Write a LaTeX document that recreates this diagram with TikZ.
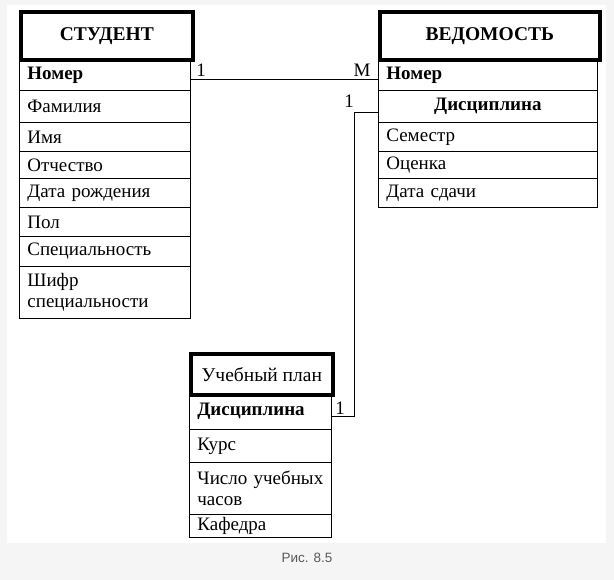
\documentclass[tikz,border=0pt]{standalone}
\usepackage{fontspec}
\setmainfont{Liberation Serif}
\newfontfamily\capfont{Liberation Sans}
\begin{document}
\begin{tikzpicture}[x=1pt,y=-1pt,
  every node/.style={font=\rmfamily\fontsize{19}{20.5}\selectfont},
  hdr/.style={draw,line width=3.6pt,rectangle,inner sep=0pt,anchor=north west,align=center,font=\rmfamily\fontsize{19.5}{21}\selectfont},
  row/.style={draw,line width=0.8pt,rectangle,inner sep=0pt,anchor=north west,align=left},
  lbl/.style={inner sep=0pt},
  conn/.style={line width=0.8pt}]
\useasboundingbox (0,0) rectangle (614,580);
\fill[black!4] (0,0) rectangle (614,580);
\fill[white] (7,5) rectangle (606,543);

% STUDENT
\node[row,minimum width=171,minimum height=31,text width=155] (s1) at (19,59) {\textbf{Номер}};
\node[row,minimum width=171,minimum height=32,text width=155] (s2) at (19,90) {Фамилия};
\node[row,minimum width=171,minimum height=29,text width=155] (s3) at (19,122) {Имя};
\node[row,minimum width=171,minimum height=27,text width=155] (s4) at (19,151) {Отчество};
\node[row,minimum width=171,minimum height=29,text width=155] (s5) at (19,178) {Дата рождения};
\node[row,minimum width=171,minimum height=29,text width=155] (s6) at (19,207) {Пол};
\node[row,minimum width=171,minimum height=30,text width=155] (s7) at (19,236) {Специальность};
\node[row,minimum width=171,minimum height=52,text width=155] (s8) at (19,266) {Шифр\\специальности};
\node[hdr,minimum width=172,minimum height=48] (sh) at (19,10) {\textbf{СТУДЕНТ}};

% VEDOMOST
\node[row,minimum width=219,minimum height=31,text width=203] (v1) at (378,59) {\textbf{Номер}};
\node[row,minimum width=219,minimum height=32,text width=203,align=center] (v2) at (378,90) {\textbf{Дисциплина}};
\node[row,minimum width=219,minimum height=29,text width=203] (v3) at (378,122) {Семестр};
\node[row,minimum width=219,minimum height=27,text width=203] (v4) at (378,151) {Оценка};
\node[row,minimum width=219,minimum height=29,text width=203] (v5) at (378,178) {Дата сдачи};
\node[hdr,minimum width=220,minimum height=48] (vh) at (378,10) {\textbf{ВЕДОМОСТЬ}};

% UCHEBNY PLAN
\node[row,minimum width=142,minimum height=36,text width=126] (u1) at (189,393) {\textbf{Дисциплина}};
\node[row,minimum width=142,minimum height=33,text width=126] (u2) at (189,429) {Курс};
\node[row,minimum width=142,minimum height=52,text width=126] (u3) at (189,462) {Число учебных\\часов};
\node[row,minimum width=142,minimum height=23,text width=126] (u4) at (189,514) {Кафедра};
\node[hdr,minimum width=142,minimum height=41] (uh) at (189,352) {Учебный план};

\foreach \h in {sh,vh,uh}
  \draw[line width=0.8pt] ([shift={(3.6pt,-3.6pt)}]\h.north west) rectangle ([shift={(-3.6pt,3.6pt)}]\h.south east);

% connectors
\coordinate (bend) at (354,416);
\draw[conn] ([yshift=-5pt]s1.east) -- ([yshift=-5pt]s1.east -| v1.west);
\draw[conn] ([yshift=-6pt]v2.west) -| (bend) -- (bend -| u1.east);

\node[lbl] (l1) at (201,70) {1};
\node[lbl] (l2) at (362,70) {M};
\node[lbl] (l3) at (349,101) {1};
\node[lbl] (l4) at (340,408) {1};

\node[lbl,font=\capfont\fontsize{13.5}{15}\selectfont,text=black!65] (cap) at (307,558) {Рис. 8.5};
\end{tikzpicture}
\end{document}
